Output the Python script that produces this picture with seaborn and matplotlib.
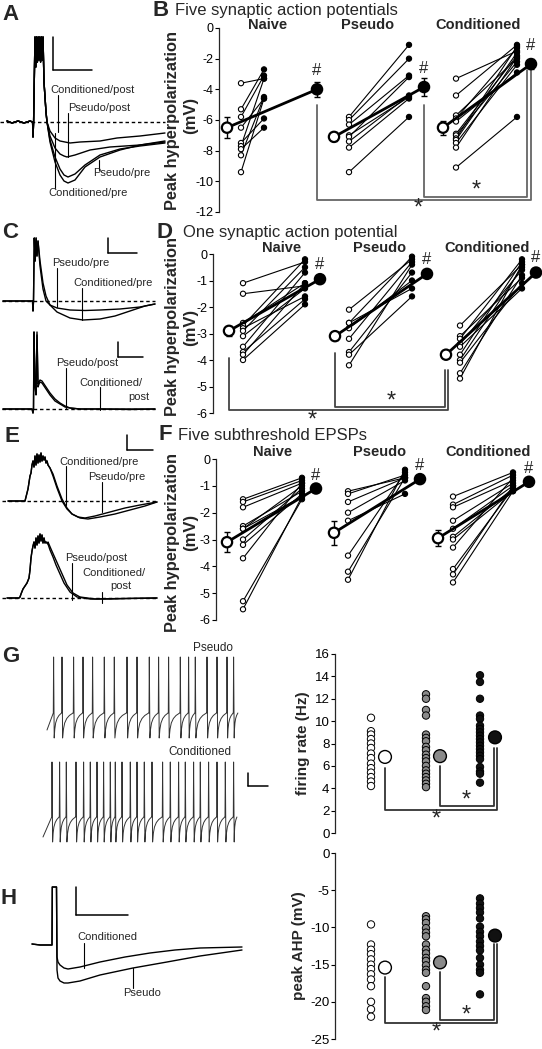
import numpy as np
import pandas as pd
import seaborn as sns
import matplotlib
matplotlib.use("Agg")
import matplotlib.pyplot as plt

groups = ['Naive', 'Pseudo', 'Conditioned']

# ---- B: five synaptic action potentials, peak hyperpolarization (mV) ----
b_naive_pre = [-3.6, -5.3, -5.8, -6.5, -7.5, -7.7, -7.9, -8.3, -9.4]
b_naive_post = [-3.3, -2.7, -3.1, -4.6, -5.9, -3.3, -6.5, -4.5, -4.6]
b_pseudo_pre = [-5.8, -6.0, -6.3, -7.0, -7.1, -7.4, -7.8, -9.4]
b_pseudo_post = [-1.1, -2.0, -3.1, -4.5, -3.2, -4.4, -4.6, -5.8]
b_cond_pre = [-3.3, -4.4, -5.7, -5.9, -6.1, -6.9, -7.0, -7.2, -7.3, -7.5, -7.8, -9.1]
b_cond_post = [-1.5, -1.1, -2.0, -1.3, -2.9, -1.8, -2.2, -1.2, -1.6, -2.4, -1.9, -5.8]
b_mean_pre = [-6.5, -7.1, -6.5]
b_mean_post = [-4.0, -3.85, -2.35]
b_sem_pre = [0.7, 0.3, 0.45]
b_sem_post = [0.5, 0.6, 0.3]

# ---- D: one synaptic action potential ----
d_naive_pre = [-1.1, -1.5, -2.6, -2.7, -2.8, -2.9, -3.1, -3.5, -3.7, -3.8, -4.0]
d_naive_post = [-0.3, -1.2, -1.1, -0.2, -1.6, -0.5, -1.3, -0.7, -1.7, -1.1, -1.9]
d_pseudo_pre = [-2.1, -2.6, -2.6, -2.8, -3.2, -3.7, -3.8, -4.2]
d_pseudo_post = [-0.2, -1.3, -0.1, -1.0, -0.3, -0.7, -1.6, -0.4]
d_cond_pre = [-2.7, -3.1, -3.2, -3.4, -3.5, -3.8, -4.0, -4.1, -4.5, -4.7]
d_cond_post = [-0.4, -0.9, -0.2, -0.6, -1.3, -0.3, -0.5, -1.1, -0.8, -0.4]
d_mean_pre = [-2.9, -3.1, -3.8]
d_mean_post = [-0.95, -0.75, -0.7]
d_sem_pre = [0.2, 0.15, 0.05]
d_sem_post = [0.1, 0.1, 0.1]

# ---- F: five subthreshold EPSPs ----
f_naive_pre = [-1.5, -1.6, -1.8, -2.5, -2.6, -2.6, -3.0, -3.2, -3.7, -5.3, -5.6]
f_naive_post = [-0.7, -0.8, -0.9, -1.2, -1.0, -1.4, -1.1, -1.3, -0.9, -1.5, -1.4]
f_pseudo_pre = [-1.2, -1.3, -1.6, -2.0, -2.3, -3.6, -4.2, -4.5]
f_pseudo_post = [-0.7, -0.6, -0.7, -0.8, -1.3, -0.5, -0.7, -0.4]
f_cond_pre = [-1.4, -1.7, -1.8, -2.3, -2.6, -2.9, -3.0, -3.3, -4.1, -4.3, -4.6]
f_cond_post = [-0.5, -0.6, -0.8, -0.9, -1.0, -1.1, -1.2, -0.7, -1.1, -1.0, -1.2]
f_mean_pre = [-3.1, -2.75, -2.95]
f_mean_post = [-1.1, -0.75, -0.85]
f_sem_pre = [0.37, 0.44, 0.3]
f_sem_post = [0.08, 0.08, 0.08]

# ---- G: firing rate (Hz) ----
g_naive = [10.3, 9.1, 8.8, 8.4, 8.0, 7.6, 7.1, 6.7, 6.2, 5.8, 5.4, 5.0, 4.6, 4.2]
g_pseudo = [12.4, 12.0, 11.0, 10.5, 8.8, 8.5, 8.2, 7.7, 7.4, 7.0, 6.7, 6.4, 6.0, 5.6, 5.3, 5.0, 4.7, 4.4, 4.1]
g_cond = [14.1, 13.5, 12.0, 10.5, 10.2, 9.6, 9.3, 9.0, 8.7, 8.4, 8.1, 7.8, 7.5, 7.2, 6.9, 6.6, 5.9, 5.5, 5.3, 4.5]
g_means = [6.8, 6.87, 8.55]

# ---- H: peak AHP (mV) ----
h_naive = [-9.6, -12.3, -13.0, -13.6, -14.3, -15.0, -15.6, -16.3, -17.0, -17.9, -20.0, -21.0, -22.0]
h_pseudo = [-8.5, -8.9, -9.4, -10.1, -10.7, -11.2, -12.3, -13.0, -13.5, -14.1, -14.5, -15.1, -15.7,
            -16.1, -17.9, -19.5, -20.0, -20.6, -21.1]
h_cond = [-6.1, -6.8, -7.4, -8.0, -8.8, -9.9, -10.6, -11.2, -11.9, -12.5, -13.1, -14.1, -15.0, -15.7,
          -16.1, -19.0]
h_means = [-15.4, -14.7, -11.1]

# ---- example traces (time, voltage relative to baseline; arbitrary units) ----
a_start_t = [7, 12, 18, 24, 30, 32.6, 33, 33.6, 35, 35.8, 36.6, 37.4, 38.2, 39, 39.8, 40.6, 41.4, 42.2, 43, 44, 46, 47]
a_start_v = [1, -1, 1, -1, 1, 0, -15, 0, 85, 55, 85, 60, 85, 62, 85, 60, 85, 62, 85, 40, 10, 0]
a_cond_pre_t = [47, 50, 55, 60, 64, 68, 75, 85, 100, 120, 140, 165]
a_cond_pre_v = [0, -20, -40, -53, -59, -61, -58, -45, -35, -28, -23, -19]
a_pseudo_pre_t = [47, 50, 55, 60, 64, 68, 75, 85, 100, 120, 140, 165]
a_pseudo_pre_v = [0, -18, -35, -47, -53, -55, -52, -43, -33, -27, -24, -21]
a_pseudo_post_t = [47, 50, 55, 60, 64, 67, 75, 90, 110, 140, 165]
a_pseudo_post_v = [0, -14, -26, -32, -34, -35, -33, -28, -25, -23, -20]
a_cond_post_t = [47, 50, 55, 60, 65, 70, 80, 100, 117, 140, 165]
a_cond_post_v = [0, -9, -16, -19, -20, -21, -20, -19, -16, -14, -11]

c_pre_start_t = [3, 15, 25, 32.5, 33, 33.5, 34.3, 35.2, 36.1, 37, 38]
c_pre_start_v = [0, 0, 0, 0, -10, 0, 63, 40, 63, 45, 60]
c_pseudo_pre_t = [38, 40, 43, 46, 50, 57, 70, 85, 100, 120, 140, 155]
c_pseudo_pre_v = [60, 35, 12, 0, -4, -7, -9, -9.5, -9, -8, -6, -3]
c_cond_pre_t = [38, 40, 43, 46, 50, 57, 70, 83, 100, 115, 130, 145, 155]
c_cond_pre_v = [60, 40, 18, 5, -4, -11, -17, -19, -18, -15, -10, -5, -3]
c_post_t = [3, 20, 32, 33, 33.5, 34, 35, 36, 37, 38, 39, 40, 42, 46, 50, 55, 60, 65, 70, 80, 100, 130, 155]
c_pseudo_post_v = [0, 0, 0, -4, 0, 77, 25, 15, 77, 25, 27, 29, 28, 22, 16, 10, 6, 3, 1, 0, 0, 0, 0]
c_cond_post_v = [0, 0, 0, -4, 0, 77, 22, 14, 74, 22, 25, 27, 26, 20, 14, 8, 5, 2, 1, 0, 0, -0.5, 0]

e_pre_rise_t = [8, 25, 26, 28, 30, 31, 32, 33, 34, 35, 36, 37, 38, 39, 40, 41, 42, 43, 44, 45, 46, 47, 48, 50]
e_pre_rise_v = [0, 0, 4, 12, 25, 28, 36, 40, 34, 45, 36, 47, 38, 46, 39, 48, 40, 45, 41, 44, 38, 40, 36, 33]
e_cond_pre_t = [50, 53, 57, 62, 67, 72, 78, 85, 95, 110, 125, 140, 157]
e_cond_pre_v = [33, 25, 13, 0, -8, -13, -16, -17, -15, -11, -7, -4, -1]
e_pseudo_pre_t = [50, 53, 57, 62, 67, 72, 80, 88, 100, 115, 130, 145, 157]
e_pseudo_pre_v = [33, 27, 15, 2, -7, -13, -17, -18, -16, -13, -9, -5, -1]
e_post_rise_t = [7, 19, 20, 21, 23, 25, 27, 29, 30, 31, 32, 33, 34, 35, 36, 37, 38, 39, 40, 41, 42, 43, 44, 45, 46, 48]
e_post_rise_v = [0, 0, 1, 4, 9, 12, 15, 20, 28, 40, 47, 52, 56, 50, 60, 53, 62, 55, 64, 57, 63, 55, 60, 55, 56, 54]
e_cond_post_t = [48, 50, 53, 56, 60, 64, 70, 77, 90, 110, 130, 157]
e_cond_post_v = [54, 48, 41, 33, 24, 15, 6, 1, -1, -1, -0.5, 0]
e_pseudo_post_t = [48, 51, 55, 59, 63, 67, 73, 80, 95, 120, 157]
e_pseudo_post_v = [56, 49, 40, 31, 22, 13, 5, 1, -1, -0.5, 0]

g_pseudo_spikes = [53.3, 61.7, 73.3, 82.7, 92.3, 104, 114, 126.7, 136.7, 149, 158.3, 168.3, 180,
                   188.3, 195, 206.7, 216.7, 226.7, 233.3]
g_cond_spikes = [51.7, 59.3, 66, 75.7, 83.3, 90, 96.7, 103.3, 110, 115, 121.7, 130, 136.7, 144, 151.7,
                 162.3, 170, 178.3, 185, 193.3, 200, 208.3, 216.7, 225, 233.3]

h_cond_t = [32, 40, 52, 52.3, 56.5, 57, 58, 60, 64, 68, 80, 100, 125, 150, 175, 200, 242]
h_cond_v = [1, 0, 0, 58, 58, -12, -17, -20, -23, -24, -22, -17, -12, -8, -5, -3, -2]
h_pseudo_t = [32, 40, 52, 52.3, 56.5, 57, 58, 60, 64, 68, 80, 100, 133, 167, 200, 242]
h_pseudo_v = [1, 0, 0, 58, 58, -25, -33, -36, -38, -38, -36, -30, -23, -17, -11, -5]

# recovery shape between spikes (fraction of interval, fraction of threshold)
REC_FRAC = [0.08, 0.2, 0.4, 0.65, 0.85, 1.0]
REC_LEVEL = [0.35, 0.6, 0.78, 0.9, 0.96, 1.0]

sns.set_theme(style='ticks')
plt.rcParams['font.family'] = ['Liberation Sans', 'DejaVu Sans']
plt.rcParams['axes.unicode_minus'] = False
plt.rcParams['axes.linewidth'] = 0.9

W, H = 542, 1049
fig = plt.figure(figsize=(W / 100, H / 100), dpi=100)
ov = fig.add_axes([0, 0, 1, 1])
ov.set_xlim(0, W)
ov.set_ylim(H, 0)
ov.set_axis_off()


def value_axes(x0, x1, py_a, va, py_b, vb, vlo, vhi):
    k = (py_b - py_a) / (vb - va)
    p1 = py_a + (vlo - va) * k
    p2 = py_a + (vhi - va) * k
    top, bot = min(p1, p2), max(p1, p2)
    ax = fig.add_axes([x0 / W, 1 - bot / H, (x1 - x0) / W, (bot - top) / H])
    ax.set_facecolor('none')
    sns.despine(ax=ax, bottom=True)
    return ax, (x0, x1), (vlo, vhi)


def trace_axes(x0, x1, py_top, py_bot, base):
    ax = fig.add_axes([x0 / W, 1 - py_bot / H, (x1 - x0) / W, (py_bot - py_top) / H])
    ax.set_xlim(x0, x1)
    ax.set_ylim(base - py_bot, base - py_top)
    ax.set_axis_off()
    return ax


def finish(ax, xl, yl, ticks, fs):
    ax.set_xlim(*xl)
    ax.set_ylim(*yl)
    ax.set_xticks([])
    ax.set_xlabel('')
    ax.set_ylabel('')
    ax.set_yticks(ticks)
    ax.spines['left'].set_bounds(min(ticks), max(ticks))
    ax.tick_params(axis='y', labelsize=fs, length=3, width=0.8, pad=1, colors='black')


def paired_panel(spec, pres, posts, m_pre, m_post, s_pre, s_post, xs, label_x, label_y, hash_dy):
    ax, xl, yl = spec
    rows = []
    for pre, post, x in zip(pres, posts, xs):
        for a, b in zip(pre, post):
            ax.plot([x[1], x[2]], [a, b], color='black', lw=0.8, zorder=2)
            rows.append((x[1], a, 'pre'))
            rows.append((x[2], b, 'post'))
    df = pd.DataFrame(rows, columns=['x', 'y', 'phase'])
    sns.scatterplot(data=df, x='x', y='y', hue='phase', palette={'pre': 'white', 'post': 'black'},
                    edgecolor='black', linewidth=0.8, s=14, legend=False, ax=ax, zorder=3, clip_on=False)
    for g, x in enumerate(xs):
        ax.plot([x[0], x[3]], [m_pre[g], m_post[g]], color='black', lw=2, zorder=4)
        ax.errorbar(x[0], m_pre[g], yerr=s_pre[g], fmt='none', ecolor='black', elinewidth=1, capsize=2, zorder=4)
        ax.errorbar(x[3], m_post[g], yerr=s_post[g], fmt='none', ecolor='black', elinewidth=1, capsize=2, zorder=4)
        ax.text(x[3], m_post[g] + hash_dy, '#', ha='center', va='center', fontsize=12)
        ax.text(label_x[g], label_y, groups[g], ha='center', va='center', fontsize=10.5, fontweight='bold')
    mdf = pd.DataFrame({'x': [x[0] for x in xs] + [x[3] for x in xs],
                        'y': list(m_pre) + list(m_post),
                        'phase': ['pre'] * 3 + ['post'] * 3})
    sns.scatterplot(data=mdf, x='x', y='y', hue='phase', palette={'pre': 'white', 'post': 'black'},
                    edgecolor='black', linewidth=1.6, s=55, legend=False, ax=ax, zorder=5, clip_on=False)
    return ax


def bracket(ax, xa, ya, xb, yb, ylow, color='#666666'):
    ax.plot([xa, xa, xb, xb], [ya, ylow, ylow, yb], color=color, lw=1.3, zorder=1, clip_on=False)


def star(ax, x, y):
    ax.text(x, y, '*', ha='center', va='center', fontsize=17, clip_on=False)


def strip_panel(spec, cols, means, xs_ind, xs_mean, ticks):
    ax, xl, yl = spec
    colors = ['white', '#8a8a8a', '#111111']
    rows = []
    for name, vals, x in zip(groups, cols, xs_ind):
        rows += [(x, v, name) for v in vals]
    df = pd.DataFrame(rows, columns=['x', 'y', 'group'])
    sns.scatterplot(data=df, x='x', y='y', hue='group', palette=dict(zip(groups, colors)),
                    edgecolor='black', linewidth=0.7, s=28, legend=False, ax=ax, zorder=3, clip_on=False)
    mdf = pd.DataFrame({'x': xs_mean, 'y': means, 'group': groups})
    sns.scatterplot(data=mdf, x='x', y='y', hue='group', palette=dict(zip(groups, colors)),
                    edgecolor='black', linewidth=1.0, s=85, legend=False, ax=ax, zorder=4, clip_on=False)
    finish(ax, xl, yl, ticks, 9.5)
    return ax


# ---------------- B ----------------
xs_b = [(227, 241, 264, 317), (334, 349, 409, 424), (443, 456, 517, 531)]
spec = value_axes(219, 542, 28, 0, 212, -12, -12.5, 0.8)
axb = paired_panel(spec, [b_naive_pre, b_pseudo_pre, b_cond_pre], [b_naive_post, b_pseudo_post, b_cond_post],
                   b_mean_pre, b_mean_post, b_sem_pre, b_sem_post, xs_b, [268, 368, 478], 0.2, 1.2)
bracket(axb, xs_b[0][3], -5.05, 531, -2.75, -11.2)
bracket(axb, xs_b[1][3], -5.05, 527, -2.75, -11.0)
star(axb, 476, -10.6)
star(axb, 418, -11.8)
finish(axb, spec[1], spec[2], list(range(0, -13, -2)), 9)

# ---------------- D ----------------
xs_d = [(229, 243, 305, 320), (335, 349, 412, 427), (446, 460, 522, 536)]
spec = value_axes(213, 542, 254, 0, 413, -6, -6.3, 0.4)
axd = paired_panel(spec, [d_naive_pre, d_pseudo_pre, d_cond_pre], [d_naive_post, d_pseudo_post, d_cond_post],
                   d_mean_pre, d_mean_post, d_sem_pre, d_sem_post, xs_d, [282, 380, 487], 0.23, 0.55)
bracket(axd, xs_d[0][0], -3.92, 448, -4.36, -5.87, color='#444444')
bracket(axd, xs_d[1][0], -3.74, 445, -4.36, -5.79, color='#444444')
star(axd, 391, -5.55)
star(axd, 312, -6.3)
finish(axd, spec[1], spec[2], list(range(0, -7, -1)), 9)

# ---------------- F ----------------
xs_f = [(227, 243, 302, 316), (334, 348, 405, 420), (438, 453, 513, 529)]
spec = value_axes(216, 542, 459, 0, 620, -6, -6.3, 0.4)
axf = paired_panel(spec, [f_naive_pre, f_pseudo_pre, f_cond_pre], [f_naive_post, f_pseudo_post, f_cond_post],
                   f_mean_pre, f_mean_post, f_sem_pre, f_sem_post, xs_f, [273, 380, 488], 0.27, 0.5)
finish(axf, spec[1], spec[2], list(range(0, -7, -1)), 9)

# ---------------- G / H dot plots ----------------
gx_ind = [371, 426, 480]
gx_mean = [385, 440, 495]
spec = value_axes(335, 530, 654, 16, 833, 0, -0.5, 16.5)
axg = strip_panel(spec, [g_naive, g_pseudo, g_cond], g_means, gx_ind, gx_mean, list(range(0, 17, 2)))
bracket(axg, gx_mean[0], 5.8, 497, 7.6, 2.1, color='#333333')
bracket(axg, gx_mean[1], 6.0, 494, 7.6, 2.4, color='#333333')
star(axg, 466, 2.9)
star(axg, 436, 1.2)
axg.set_ylabel('firing rate (Hz)', fontsize=11, fontweight='bold', labelpad=3)

spec = value_axes(335, 530, 853, 0, 1039, -25, -25.5, 0.5)
axh = strip_panel(spec, [h_naive, h_pseudo, h_cond], h_means, gx_ind, gx_mean, list(range(0, -26, -5)))
bracket(axh, gx_mean[0], -16.7, 497, -12.2, -22.9, color='#333333')
bracket(axh, gx_mean[1], -16.0, 494, -12.2, -22.5, color='#333333')
star(axh, 466, -21.9)
star(axh, 436, -24.1)
axh.set_ylabel('peak AHP (mV)', fontsize=11, fontweight='bold', labelpad=3)

# ---------------- traces ----------------
lw_tr = 1.0
dash = (0, (2.5, 2))
ax = trace_axes(0, 170, 30, 200, 122)
ax.plot([0, 165], [0, 0], color='black', lw=1, ls=dash)
for tt, vv in [(a_cond_pre_t, a_cond_pre_v), (a_pseudo_pre_t, a_pseudo_pre_v),
               (a_pseudo_post_t, a_pseudo_post_v), (a_cond_post_t, a_cond_post_v)]:
    ax.plot(a_start_t + tt, a_start_v + vv, color='black', lw=lw_tr)

ax = trace_axes(0, 160, 230, 330, 301)
ax.plot([2, 155], [0, 0], color='black', lw=1, ls=dash)
for tt, vv in [(c_pseudo_pre_t, c_pseudo_pre_v), (c_cond_pre_t, c_cond_pre_v)]:
    ax.plot(c_pre_start_t + tt, c_pre_start_v + vv, color='black', lw=lw_tr)

ax = trace_axes(0, 160, 325, 420, 409)
ax.plot([2, 155], [0, 0], color='black', lw=1, ls=dash)
ax.plot(c_post_t, c_pseudo_post_v, color='black', lw=lw_tr)
ax.plot(c_post_t, c_cond_post_v, color='black', lw=lw_tr)

ax = trace_axes(0, 165, 440, 525, 501)
ax.plot([2, 158], [0, 0], color='black', lw=1, ls=dash)
for tt, vv in [(e_cond_pre_t, e_cond_pre_v), (e_pseudo_pre_t, e_pseudo_pre_v)]:
    ax.plot(e_pre_rise_t + tt, e_pre_rise_v + vv, color='black', lw=lw_tr)

ax = trace_axes(0, 165, 520, 610, 598)
ax.plot([2, 158], [0, 0], color='black', lw=1, ls=dash)
for tt, vv in [(e_cond_post_t, e_cond_post_v), (e_pseudo_post_t, e_pseudo_post_v)]:
    ax.plot(e_post_rise_t + tt, e_post_rise_v + vv, color='black', lw=lw_tr)


def spike_train(times, t_start, v_start, t_end, peak, thresh):
    t, v = [t_start], [v_start]
    for i, ts in enumerate(times):
        t += [ts, ts + 0.3, ts + 0.9]
        v += [thresh, peak, 0]
        nxt = times[i + 1] if i + 1 < len(times) else t_end
        span = nxt - ts - 0.9
        for f, l in zip(REC_FRAC, REC_LEVEL):
            t.append(ts + 0.9 + f * span * 0.97)
            v.append(l * thresh)
    return t, v


ax = trace_axes(30, 250, 645, 745, 738)
t, v = spike_train(g_pseudo_spikes, 47, 8, 238, 81, 25)
ax.plot(t, v, color='#333333', lw=0.7)
ax = trace_axes(30, 250, 750, 850, 842)
t, v = spike_train(g_cond_spikes, 43, 5, 237, 80, 25)
ax.plot(t, v, color='#333333', lw=0.7)

ax = trace_axes(25, 250, 880, 1000, 945)
ax.plot(h_cond_t, h_cond_v, color='black', lw=lw_tr)
ax.plot(h_pseudo_t, h_pseudo_v, color='black', lw=lw_tr)

# ---------------- annotations (figure pixel space) ----------------
for xa, ya, xb, yb in [(53, 37, 53, 70), (53, 70, 92, 70), (108, 238, 108, 253), (108, 253, 137, 253),
                       (118, 342, 118, 357), (118, 357, 143, 357), (127, 435, 127, 450), (127, 450, 153, 450),
                       (248, 773, 248, 786), (248, 786, 268, 786), (76, 887, 76, 915), (76, 915, 128, 915)]:
    ov.plot([xa, xb], [ya, yb], color='black', lw=1.1)

for x, y0, y1 in [(58, 95, 132), (68, 113, 157), (99, 160, 170), (55, 133, 188),
                  (57, 268, 307), (82, 288, 320), (66, 368, 408), (100, 387, 410),
                  (66, 466, 505), (102, 482, 512), (72, 563, 600), (102, 592, 603),
                  (84, 943, 968), (133, 968, 988)]:
    ov.plot([x, x], [y0, y1], color='black', lw=0.8)

trace_labels = [(50, 90, 'Conditioned/post'), (68, 108, 'Pseudo/post'), (93, 173, 'Pseudo/pre'),
                (48, 193, 'Conditioned/pre'), (52, 263, 'Pseudo/pre'), (73, 283, 'Conditioned/pre'),
                (56, 363, 'Pseudo/post'), (79, 383, 'Conditioned/'), (128, 397, 'post'),
                (59, 462, 'Conditioned/pre'), (88, 477, 'Pseudo/pre'), (65, 558, 'Pseudo/post'),
                (82, 573, 'Conditioned/'), (110, 586, 'post'), (77, 937, 'Conditioned'), (123, 993, 'Pseudo')]
for x, y, s in trace_labels:
    ov.text(x, y, s, ha='left', va='center', fontsize=8)
ov.text(233, 648, 'Pseudo', ha='right', va='center', fontsize=8.5)
ov.text(231, 752, 'Conditioned', ha='right', va='center', fontsize=8.5)

for x, y, s in [(2, 15, 'A'), (152, 10, 'B'), (2, 232, 'C'), (156, 232, 'D'), (4, 436, 'E'),
                (158, 435, 'F'), (2, 657, 'G'), (1, 898, 'H')]:
    ov.text(x, y, s, ha='left', va='center', fontsize=16, fontweight='bold')
for x, y, s in [(175, 10, 'Five synaptic action potentials'), (183, 232, 'One synaptic action potential'),
                (178, 435, 'Five subthreshold EPSPs')]:
    ov.text(x, y, s, ha='left', va='center', fontsize=12)
for yc, ym in [(120, 115), (327, 327), (542, 532)]:
    ov.text(173, yc, 'Peak hyperpolarization', rotation=90, ha='center', va='center', fontsize=11.8,
            fontweight='bold')
    ov.text(191, ym, '(mV)', rotation=90, ha='center', va='center', fontsize=12, fontweight='bold')

fig.savefig('out.png', dpi=100)
